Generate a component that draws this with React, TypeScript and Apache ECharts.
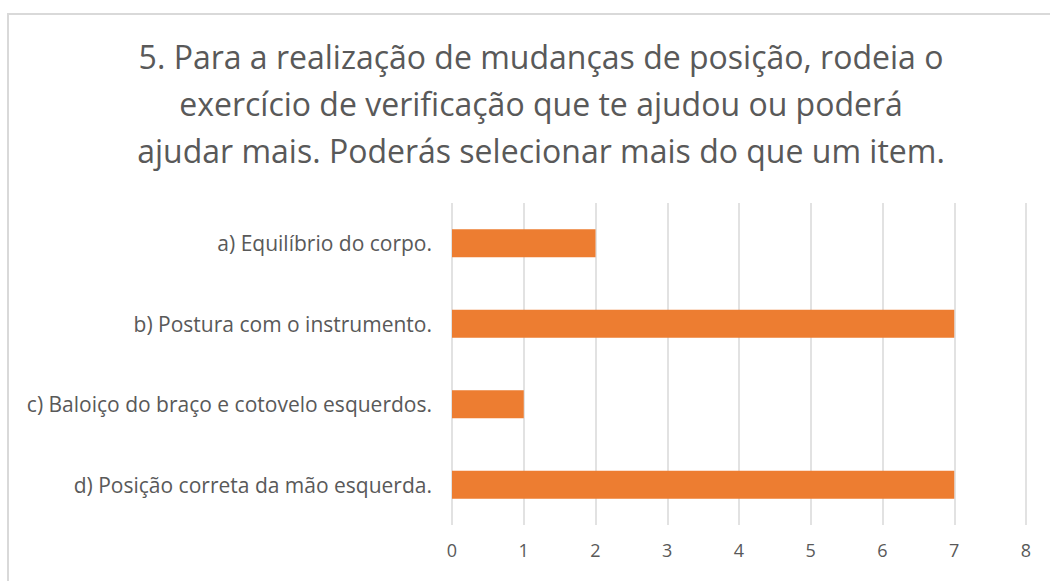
import React, { useEffect, useRef } from "react";
import * as echarts from "echarts";

const categories = [
  "a) Equilíbrio do corpo.",
  "b) Postura com o instrumento.",
  "c) Baloiço do braço e cotovelo esquerdos.",
  "d) Posição correta da mão esquerda.",
];
const values = [2, 7, 1, 7];
const titleText =
  "5. Para a realização de mudanças de posição, rodeia o\nexercício de verificação que te ajudou ou poderá\najudar mais. Poderás selecionar mais do que um item.";

export default function App() {
  const ref = useRef<HTMLDivElement>(null);
  useEffect(() => {
    if (!ref.current) return;
    const chart = echarts.init(ref.current, undefined, { renderer: "svg" });
    chart.setOption({
      animation: false,
      backgroundColor: "#ffffff",
      title: {
        text: titleText,
        left: 536,
        top: 28,
        textAlign: "center",
        textStyle: {
          fontFamily: "Open Sans",
          fontWeight: "normal",
          fontSize: 32,
          lineHeight: 47,
          color: "#595959",
        },
      },
      graphic: [
        {
          type: "rect",
          shape: { x: 8, y: 14, width: 1100, height: 600 },
          style: { fill: "none", stroke: "#d9d9d9", lineWidth: 2 },
          silent: true,
        },
      ],
      grid: { left: 452, right: 24, top: 203, bottom: 56 },
      xAxis: {
        type: "value",
        min: 0,
        max: 8,
        interval: 1,
        axisLine: { show: false },
        axisTick: { show: false },
        splitLine: { show: true, lineStyle: { color: "#d9d9d9", width: 1.5 } },
        axisLabel: {
          color: "#595959",
          fontSize: 18,
          fontFamily: "Open Sans",
          margin: 16,
        },
      },
      yAxis: {
        type: "category",
        data: categories,
        inverse: true,
        axisLine: { show: false },
        axisTick: { show: false },
        axisLabel: {
          color: "#595959",
          fontSize: 21,
          fontFamily: "Open Sans",
          margin: 20,
        },
      },
      series: [
        {
          type: "bar",
          data: values,
          barCategoryGap: "65%",
          itemStyle: { color: "#ED7D31" },
        },
      ],
    });
    return () => chart.dispose();
  }, []);
  return (
    <div
      ref={ref}
      style={{ position: "fixed", left: 0, top: 0, width: 1050, height: 581 }}
    />
  );
}
